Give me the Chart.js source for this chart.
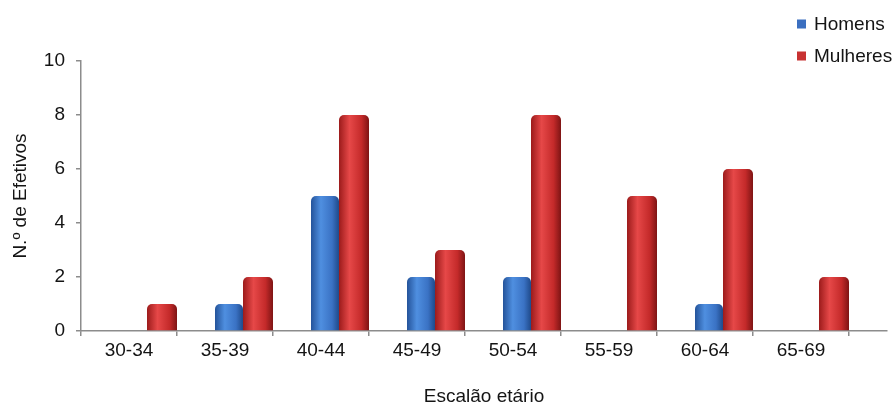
<!DOCTYPE html>
<html>
<head>
<meta charset="utf-8">
<script src="https://cdn.jsdelivr.net/npm/chart.js@4/dist/chart.umd.min.js"></script>
<style>
  html, body { margin: 0; padding: 0; background: #ffffff; }
  #wrap { position: relative; width: 895px; height: 408px; }
</style>
</head>
<body>
<div id="wrap"><canvas id="chart" width="895" height="408"></canvas></div>
<script>
// ---- data ----
const categories = ['30-34', '35-39', '40-44', '45-49', '50-54', '55-59', '60-64', '65-69'];
const homens = [0, 1, 5, 2, 2, 0, 1, 0];
const mulheres = [1, 2, 8, 3, 8, 5, 6, 2];
const yTicks = [0, 2, 4, 6, 8, 10];
const seriesNames = ['Homens', 'Mulheres'];
const xTitle = 'Escalão etário';
const yTitle = 'N.º de Efetivos';

// ---- styles ----
const FONT = '"Liberation Sans", Arial, sans-serif';
const FS = 19;
const TEXT = '#141414';
const AXIS = '#8c8c8c';
const blueStops = ['#24539a', '#4f8fe0', '#3a72c4', '#1f4a8a'];
const redStops = ['#9c1b1b', '#e64848', '#c42a2a', '#7e1414'];
const legendColors = ['#3b6fc0', '#c83232'];

function cylinder(stops) {
  return function (ctx) {
    const el = ctx.element;
    if (!el || !isFinite(el.x) || !el.width) return stops[2];
    const x0 = el.x - el.width / 2, x1 = el.x + el.width / 2;
    const g = ctx.chart.ctx.createLinearGradient(x0, 0, x1, 0);
    g.addColorStop(0, stops[0]);
    g.addColorStop(0.35, stops[1]);
    g.addColorStop(0.75, stops[2]);
    g.addColorStop(1, stops[3]);
    return g;
  };
}

// extends the category axis line past the last category (as in the original)
const axisExtend = {
  id: 'axisExtend',
  afterLayout(chart, args, opts) {
    const s = chart.scales.x;
    s.right = s.right + opts.extra;
    s.width = s.right - s.left;
  }
};

// vertical legend at the top right
const sideLegend = {
  id: 'sideLegend',
  afterDraw(chart, args, opts) {
    const c = chart.ctx;
    c.save();
    c.font = opts.fontSize + 'px ' + FONT;
    c.textBaseline = 'middle';
    c.textAlign = 'left';
    let n = 0;
    chart.data.datasets.forEach((ds) => {
      if (!ds.label) return;
      const y = opts.top + n * opts.gap;
      c.fillStyle = ds.legendColor;
      c.fillRect(opts.left, y - opts.box / 2, opts.box, opts.box);
      c.fillStyle = TEXT;
      c.fillText(ds.label, opts.left + opts.box + opts.textGap, y + 1);
      n++;
    });
    c.restore();
  }
};

const cap = { topLeft: 5, topRight: 5, bottomLeft: 0, bottomRight: 0 };

const chart = new Chart(document.getElementById('chart'), {
  type: 'bar',
  data: {
    labels: categories,
    datasets: [
      { label: '', data: [], categoryPercentage: 1, barPercentage: 1 },
      { label: '', data: [], categoryPercentage: 1, barPercentage: 1 },
      {
        label: seriesNames[0], data: homens, legendColor: legendColors[0],
        backgroundColor: cylinder(blueStops), borderWidth: 0, borderSkipped: 'bottom',
        borderRadius: cap, categoryPercentage: 0.3333, barPercentage: 3.5
      },
      {
        label: seriesNames[1], data: mulheres, legendColor: legendColors[1],
        backgroundColor: cylinder(redStops), borderWidth: 0, borderSkipped: 'bottom',
        borderRadius: cap, categoryPercentage: 0.9167, barPercentage: 1.3636
      }
    ]
  },
  options: {
    responsive: false,
    animation: false,
    events: [],
    layout: { padding: { top: 61, right: 46, bottom: 0, left: 0 } },
    plugins: {
      legend: { display: false },
      tooltip: { enabled: false },
      axisExtend: { extra: 38 },
      sideLegend: { left: 797, top: 24, gap: 32, box: 9, textGap: 8, fontSize: FS }
    },
    scales: {
      x: {
        type: 'category',
        offset: true,
        grid: { offset: true, drawOnChartArea: false, drawTicks: true, tickLength: 5, color: AXIS, lineWidth: 1.5 },
        border: { display: true, color: AXIS, width: 1.5 },
        ticks: { font: { family: FONT, size: FS }, color: TEXT, padding: 3, maxRotation: 0 },
        title: { display: true, text: xTitle, font: { family: FONT, size: FS }, color: TEXT, padding: { top: 0, bottom: 0 } },
        afterFit(s) { s.height = 77; }
      },
      y: {
        min: 0, max: 10,
        grid: { drawOnChartArea: false, drawTicks: true, tickLength: 5, color: AXIS, lineWidth: 1.5 },
        border: { display: true, color: AXIS, width: 1.5 },
        ticks: { font: { family: FONT, size: FS }, color: TEXT, padding: 11, stepSize: 2 },
        afterBuildTicks(s) { s.ticks = yTicks.map(v => ({ value: v })); },
        title: { display: true, text: yTitle, font: { family: FONT, size: FS }, color: TEXT, padding: { top: 9, bottom: 0 } },
        afterFit(s) { s.width = 81; }
      }
    }
  },
  plugins: [axisExtend, sideLegend]
});
chart.update();
</script>
</body>
</html>
